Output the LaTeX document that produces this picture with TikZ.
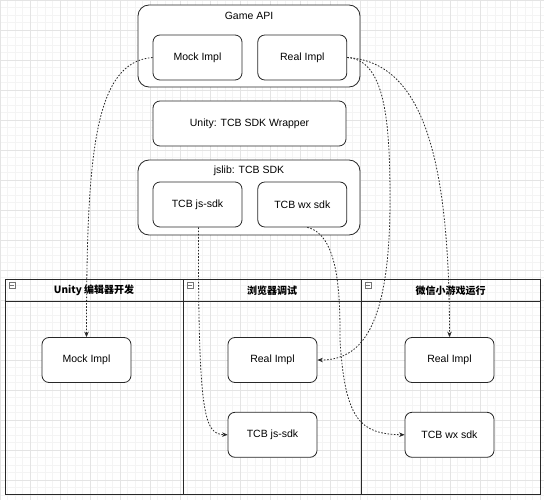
\documentclass[tikz,border=0pt]{standalone}
\usepackage{fontspec}
\setmainfont{Liberation Sans}
\newfontfamily\cjk{Noto Sans CJK SC}
\usetikzlibrary{positioning,arrows.meta}

\definecolor{gridminor}{RGB}{244,244,244}
\definecolor{gridmajor}{RGB}{228,228,228}
\definecolor{linecol}{RGB}{40,40,40}

\tikzset{
  box/.style={draw=linecol, line width=0.8pt, rounded corners=7pt, fill=white,
    minimum width=89pt, minimum height=45pt, inner sep=0pt, font=\fontsize{10.5}{12}\selectfont},
  group/.style={draw=linecol, line width=0.8pt, rounded corners=11pt, fill=white,
    minimum width=222pt, inner sep=0pt},
  grouptitle/.style={inner sep=0.75pt, font=\fontsize{10.5}{12}\selectfont},
  lane/.style={draw=linecol, line width=0.8pt, inner sep=0pt, minimum height=215pt},
  lanetitle/.style={inner sep=0.75pt, font=\cjk\bfseries\fontsize{10}{12}\selectfont},
  fold/.style={draw=black!55, line width=0.5pt, minimum size=6pt, inner sep=0pt},
  flow/.style={linecol, line width=0.8pt, dash pattern=on 1.6pt off 1.6pt,
    -{Stealth[length=5.5pt,width=4.5pt]}}
}

\begin{document}
\begin{tikzpicture}[x=1pt,y=1pt,yscale=-1,xscale=1]

\useasboundingbox (0,0) rectangle (544,500);
\fill[white] (0,0) rectangle (544,500);
% Grid
\draw[gridminor, line width=0.4pt, step=7.5] (0,0) grid (544,500);
\draw[gridmajor, line width=0.5pt, step=30] (0,0) grid (544,500);

% Game API group
\node[group, minimum height=82pt] (gameapi) at (249,46) {};
\node[grouptitle] (gameapititle) at (249,16) {Game API};
\node[box] (apimock) at (197.5,57.5) {Mock Impl};
\node[box, right=15pt of apimock] (apireal) {Real Impl};

% Wrapper
\node[box, minimum width=193pt] (wrapper) at (249.5,123.5) {Unity: TCB SDK Wrapper};

% jslib group
\node[group, minimum height=75pt] (jslib) at (249,197.5) {};
\node[grouptitle] (jslibtitle) at (249,171) {jslib: TCB SDK};
\node[box] (jssdk) at (197.5,204.5) {TCB js-sdk};
\node[box, right=15pt of jssdk] (wxsdk) {TCB wx sdk};

% Lanes
\node[lane, minimum width=178pt] (lanedev) at (94,386.5) {};
\node[lane, minimum width=178pt] (lanebrowser) at (272,386.5) {};
\node[lane, minimum width=179pt] (lanewx) at (450.5,386.5) {};
\draw[linecol, line width=0.8pt] (lanedev.west |- 0,301) -- (lanewx.east |- 0,301);

% Lane titles
\node[lanetitle] (lanedevtitle) at (94,290.5) {Unity 编辑器开发};
\node[lanetitle] (lanebrowsertitle) at (272,290.5) {浏览器调试};
\node[lanetitle] (lanewxtitle) at (450.5,290.5) {微信小游戏运行};

% Fold icons
\foreach \n/\xpos in {folddev/12, foldbrowser/190, foldwx/368}{
  \node[fold] (\n) at (\xpos,285) {};
  \draw[black!55, line width=0.5pt] ([xshift=1.3pt]\n.west) -- ([xshift=-1.3pt]\n.east);
}

% Lane boxes
\node[box] (devmock) at (86.5,360) {Mock Impl};
\node[box] (brreal) at (272.5,360) {Real Impl};
\node[box, below=29pt of brreal] (brjs) {TCB js-sdk};
\node[box] (wxreal) at (449.5,360) {Real Impl};
\node[box, below=29pt of wxreal] (wxwx) {TCB wx sdk};

%Curve Lines
\draw[flow] (apimock.west) .. controls (95,62) and (86.5,150) .. (devmock.north);
%Curve Lines
\draw[flow] (apireal.east) .. controls (385,60) and (390,120) .. (390,200)
  .. controls (390,330) and (360,360) .. (brreal.east);
%Curve Lines
\draw[flow] (apireal.east) .. controls (420,62) and (449.5,150) .. (wxreal.north);
%Curve Lines
\draw[flow] ([xshift=1pt]jssdk.south) .. controls (198,420) and (205,434) .. (brjs.west);
%Curve Lines
\draw[flow] ([xshift=5pt]wxsdk.south) .. controls (340,235) and (340,300) .. (340,340)
  .. controls (345,420) and (360,434) .. (wxwx.west);

\end{tikzpicture}
\end{document}
